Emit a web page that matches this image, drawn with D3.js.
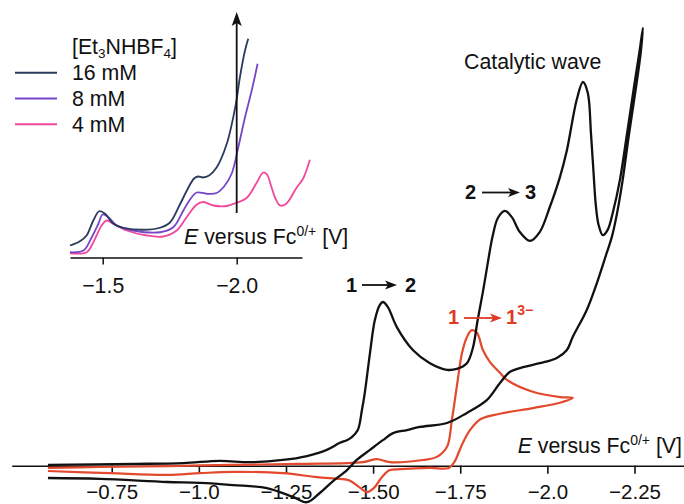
<!DOCTYPE html>
<html><head><meta charset="utf-8">
<script src="https://cdn.jsdelivr.net/npm/d3@7"></script>
<style>html,body{margin:0;padding:0;background:#fff;} svg{display:block;font-family:"Liberation Sans",Arial,sans-serif;}</style>
</head><body><svg id="c" width="684" height="504"></svg>
<script>
// ---- Main chart data (E in V vs Fc, current in arbitrary units) ----
const mainTicks = [-0.75, -1.0, -1.25, -1.50, -1.75, -2.0, -2.25];
const mainTickLabels = ["\u22120.75", "\u22121.0", "\u22121.25", "\u22121.50", "\u22121.75", "\u22122.0", "\u22122.25"];

// black CV (with acid): forward then reverse scan
const blackE = [-0.567,-0.811,-0.955,-1.061,-1.147,-1.241,-1.310,-1.367,-1.405,-1.425,-1.439,-1.456,-1.468,-1.476,-1.491,-1.505,-1.519,-1.528,-1.542,-1.568,-1.614,-1.663,-1.712,-1.740,-1.769,-1.786,-1.800,-1.815,-1.829,-1.843,-1.858,-1.878,-1.898,-1.921,-1.950,-1.978,-2.007,-2.036,-2.056,-2.084,-2.102,-2.116,-2.125,-2.132,-2.139,-2.147,-2.159,-2.173,-2.188,-2.208,-2.228,-2.248,-2.265,-2.274,
  -2.268,-2.254,-2.234,-2.216,-2.199,-2.185,-2.170,-2.142,-2.113,-2.073,-2.056,-2.027,-1.978,-1.930,-1.892,-1.864,-1.826,-1.769,-1.712,-1.634,-1.597,-1.557,-1.528,-1.491,-1.453,-1.425,-1.385,-1.347,-1.310,-1.270,-1.195,-1.098,-1.003,-0.909,-0.716,-0.567];
const blackI = [0.2,0.4,0.6,1.1,0.8,1.3,2.2,3.6,5.2,5.8,6.5,8.1,12.7,16.5,25.6,33.1,36.5,37.2,36.1,31.5,26.3,23.3,21.8,22.0,23.3,26.7,33.1,39.5,46.1,52.2,56.3,57.9,56.5,53.1,51.1,53.1,58.8,65.6,71.7,83.1,87.2,84.7,75.6,67.2,59.2,54.7,52.4,53.6,57.6,64.9,75.2,85.8,94.5,99.5,
  94.0,85.8,75.2,64.9,57.0,52.0,48.3,41.5,35.4,29.3,26.3,24.5,23.3,22.4,21.3,18.8,14.9,12.0,9.7,8.8,8.1,7.4,5.8,3.6,1.3,-1.0,-3.5,-6.2,-8.3,-7.1,-5.1,-4.4,-3.9,-3.7,-3.0,-2.8];

// red CV (no acid, 1 -> 1^3-): forward then reverse scan
const redE = [-0.567,-0.716,-0.909,-1.098,-1.290,-1.471,-1.511,-1.548,-1.643,-1.683,-1.712,-1.726,-1.740,-1.755,-1.769,-1.783,-1.798,-1.815,-1.835,-1.864,-1.884,-1.958,-2.036,-2.073,
  -2.036,-1.958,-1.864,-1.809,-1.778,-1.760,-1.746,-1.735,-1.717,-1.663,-1.577,-1.548,-1.525,-1.502,-1.482,-1.459,-1.431,-1.405,-1.339,-1.241,-1.098,-1.003,-0.909,-0.745,-0.567];
const redI = [-0.5,-0.3,-0.1,0.2,0.4,0.8,1.5,0.8,1.3,2.0,4.3,10.4,17.9,25.6,29.2,30.8,30.2,26.3,23.6,21.1,19.5,16.8,15.6,15.4,
  14.3,13.1,11.8,10.6,8.1,5.6,3.1,1.1,-0.5,-0.5,-0.8,-1.0,-2.6,-5.1,-6.0,-4.8,-3.3,-3.0,-2.6,-1.7,-1.4,-1.7,-2.1,-1.7,-1.2];

// ---- Inset data ----
const insetTicks = [-1.5, -2.0];
const insetTickLabels = ["\u22121.5", "\u22122.0"];
const legendLabels = ["16 mM", "8 mM", "4 mM"];
const legendColors = ["#2b3a5c", "#7645c8", "#f2489b"];

const e16 = [-1.378,-1.415,-1.440,-1.465,-1.487,-1.509,-1.540,-1.577,-1.651,-1.714,-1.751,-1.788,-1.818,-1.841,-1.856,-1.874,-1.897,-1.925,-1.963,-1.997,-2.012,-2.031,-2.043];
const i16 = [4.8,6.5,8.8,14.8,18.5,17.5,13.5,11.9,11.1,11.9,14.0,21.2,27.6,31.6,32.4,32.0,32.8,36.0,45.5,61.5,72.1,82.8,87.5];
const e8 = [-1.378,-1.428,-1.459,-1.484,-1.500,-1.521,-1.552,-1.614,-1.714,-1.763,-1.801,-1.826,-1.851,-1.888,-1.925,-1.953,-1.981,-2.006,-2.031,-2.056,-2.078];
const i8 = [2.1,2.8,8.1,13.5,17.2,16.1,12.8,10.8,10.1,12.1,18.8,23.2,26.0,25.5,25.8,28.4,33.5,44.1,56.1,66.8,77.5];
const e4 = [-1.378,-1.440,-1.465,-1.496,-1.515,-1.540,-1.590,-1.664,-1.726,-1.776,-1.813,-1.851,-1.875,-1.913,-1.963,-1.997,-2.037,-2.075,-2.099,-2.113,-2.128,-2.143,-2.162,-2.184,-2.224,-2.248,-2.273];
const i4 = [1.7,2.1,6.1,12.8,14.8,13.5,10.8,8.8,8.4,10.8,16.1,21.2,22.2,20.8,20.6,21.8,23.8,30.0,34.0,33.2,28.8,24.0,20.8,21.4,28.0,31.6,39.1];

const svg = d3.select("#c");
const FONT = '"Liberation Sans", Arial, sans-serif';
const FS = 21.3;

// ---- Main scales ----
const x = d3.scaleLinear().domain([-0.463, -2.392]).range([11.7, 684]);
const y = d3.scaleLinear().domain([0, 100]).range([465.7, 25.7]);

const mainLine = d3.line().x(d => x(d[0])).y(d => y(d[1])).curve(d3.curveCatmullRom.alpha(0.5));

const ax = svg.append("g").attr("transform", "translate(0,465.7)")
  .call(d3.axisBottom(x).tickValues(mainTicks).tickFormat((d, i) => mainTickLabels[i]).tickSize(8).tickSizeOuter(0).tickPadding(11));
ax.select(".domain").attr("stroke", "#111").attr("stroke-width", 1.6);
ax.selectAll(".tick line").attr("stroke", "#111").attr("stroke-width", 1.6);
ax.selectAll(".tick text").attr("font-family", FONT).attr("font-size", 20.5).attr("fill", "#111");

svg.append("path").datum(redE.map((e, i) => [e, redI[i]]))
  .attr("d", mainLine).attr("fill", "none").attr("stroke", "#e2492d").attr("stroke-width", 2.2).attr("stroke-linejoin", "round");
svg.append("path").datum(blackE.map((e, i) => [e, blackI[i]]))
  .attr("d", mainLine).attr("fill", "none").attr("stroke", "#111").attr("stroke-width", 2.3).attr("stroke-linejoin", "round");

// main axis label
const ml = svg.append("text").attr("x", 682).attr("y", 453).attr("text-anchor", "end")
  .attr("font-family", FONT).attr("font-size", FS).attr("fill", "#111");
ml.append("tspan").attr("font-style", "italic").text("E");
ml.append("tspan").text(" versus Fc");
ml.append("tspan").attr("font-size", 14).attr("dy", -8).text("0/+");
ml.append("tspan").attr("dy", 8).text(" [V]");

// annotations
function arrow(x1, x2, yy, color) {
  svg.append("line").attr("x1", x1).attr("x2", x2 - 8).attr("y1", yy).attr("y2", yy)
    .attr("stroke", color).attr("stroke-width", 1.8);
  svg.append("path").attr("d", `M${x2},${yy} L${x2 - 12},${yy - 4.5} L${x2 - 9},${yy} L${x2 - 12},${yy + 4.5} Z`).attr("fill", color);
}
function boldText(tx, ty, s, color) {
  return svg.append("text").attr("x", tx).attr("y", ty).attr("font-family", FONT).attr("font-weight", "bold")
    .attr("font-size", 20).attr("fill", color).text(s);
}
boldText(346, 292, "1", "#111"); arrow(362, 397, 285, "#111"); boldText(405, 292, "2", "#111");
boldText(465, 199, "2", "#111"); arrow(482, 520, 192.5, "#111"); boldText(525, 199, "3", "#111");
boldText(448, 324, "1", "#e03a26"); arrow(464, 502, 318, "#e03a26");
const r1 = boldText(506, 324, "1", "#e03a26");
r1.append("tspan").attr("font-size", 14).attr("dy", -9).text("3\u2212");

svg.append("text").attr("x", 464).attr("y", 68.5).attr("font-family", FONT).attr("font-size", FS)
  .attr("fill", "#111").text("Catalytic wave");

// ---- Inset ----
const xi = d3.scaleLinear().domain([-1.378, -2.2437]).range([70, 302]);
const yi = d3.scaleLinear().domain([0, 100]).range([257.5, 7.5]);
const insetLine = d3.line().x(d => xi(d[0])).y(d => yi(d[1])).curve(d3.curveCatmullRom.alpha(0.5));

const iax = svg.append("g").attr("transform", "translate(0,257.5)")
  .call(d3.axisBottom(xi).tickValues(insetTicks).tickFormat((d, i) => insetTickLabels[i]).tickSize(7).tickSizeOuter(0).tickPadding(13));
iax.select(".domain").attr("stroke", "#111").attr("stroke-width", 1.5);
iax.selectAll(".tick line").attr("stroke", "#111").attr("stroke-width", 1.5);
iax.selectAll(".tick text").attr("font-family", FONT).attr("font-size", FS).attr("fill", "#111");

const series = [[e4, i4], [e8, i8], [e16, i16]];
const seriesColors = [legendColors[2], legendColors[1], legendColors[0]];
series.forEach((s, k) => {
  svg.append("path").datum(s[0].map((e, i) => [e, s[1][i]]))
    .attr("d", insetLine).attr("fill", "none").attr("stroke", seriesColors[k]).attr("stroke-width", 1.8);
});

// vertical arrow at -2.0
const ax0 = xi(-2.0);
svg.append("line").attr("x1", ax0).attr("x2", ax0).attr("y1", 213).attr("y2", 22).attr("stroke", "#111").attr("stroke-width", 1.8);
svg.append("path").attr("d", `M${ax0},12 L${ax0 - 5},26 L${ax0},23 L${ax0 + 5},26 Z`).attr("fill", "#111");

// inset axis label
const il = svg.append("text").attr("x", 184).attr("y", 244)
  .attr("font-family", FONT).attr("font-size", FS).attr("fill", "#111");
il.append("tspan").attr("font-style", "italic").text("E");
il.append("tspan").text(" versus Fc");
il.append("tspan").attr("font-size", 14).attr("dy", -8).text("0/+");
il.append("tspan").attr("dy", 8).text(" [V]");

// legend
const lt = svg.append("text").attr("x", 72).attr("y", 54).attr("font-family", FONT).attr("font-size", FS).attr("fill", "#111");
lt.append("tspan").text("[Et");
lt.append("tspan").attr("font-size", 13.5).attr("dy", 3.5).text("3");
lt.append("tspan").attr("dy", -3.5).text("NHBF");
lt.append("tspan").attr("font-size", 13.5).attr("dy", 3.5).text("4");
lt.append("tspan").attr("dy", -3.5).text("]");

legendLabels.forEach((lab, k) => {
  const yy = 72.7 + k * 25.8;
  svg.append("line").attr("x1", 15).attr("x2", 57).attr("y1", yy).attr("y2", yy)
    .attr("stroke", legendColors[k]).attr("stroke-width", 2);
  svg.append("text").attr("x", 72).attr("y", yy + 7.5).attr("font-family", FONT).attr("font-size", FS)
    .attr("fill", "#111").text(lab);
});
</script></body></html>
